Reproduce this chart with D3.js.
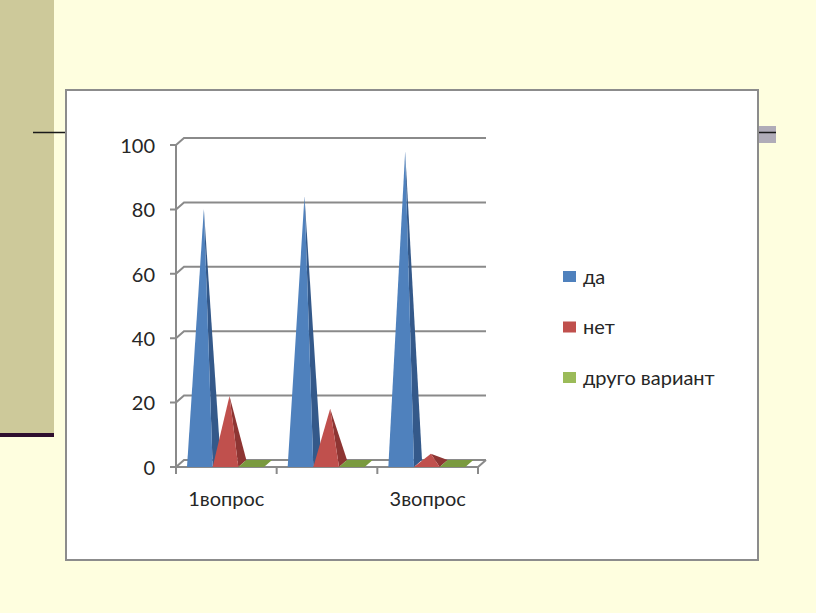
<!DOCTYPE html>
<html>
<head>
<meta charset="utf-8">
<script src="https://cdn.jsdelivr.net/npm/d3@7"></script>
<style>
  html, body { margin: 0; padding: 0; background: #FEFEDF; }
  svg { display: block; }
</style>
</head>
<body>
<svg id="chart" width="816" height="613"></svg>
<script>
const categories = ["1вопрос", "2вопрос", "3вопрос"];
const tickLabels = ["1вопрос", "", "3вопрос"];
const seriesNames = ["да", "нет", "друго вариант"];
const valuesDa = [79, 83, 97];
const valuesNet = [21, 17, 3];
const valuesDrugo = [0, 0, 0];
const yTicks = [0, 20, 40, 60, 80, 100];

const seriesValues = [valuesDa, valuesNet, valuesDrugo];
const colors = ["#4F81BD", "#C0504D", "#9BBB59"];
const darkColors = ["#34598A", "#8E3533", "#6E8A3A"];
const topColors = ["#4F81BD", "#C0504D", "#7A9A3F"];

const svg = d3.select("#chart");
const FONT = "Lato, 'Open Sans', sans-serif";

// slide background decorations
svg.append("rect").attr("x", 0).attr("y", 0).attr("width", 816).attr("height", 613).attr("fill", "#FEFEDF");
svg.append("rect").attr("x", 0).attr("y", 0).attr("width", 54).attr("height", 434).attr("fill", "#CDC99A");
svg.append("rect").attr("x", 0).attr("y", 433).attr("width", 54).attr("height", 4).attr("fill", "#2E0E2E");
svg.append("rect").attr("x", 758).attr("y", 126).attr("width", 18).attr("height", 17).attr("fill", "#B0ACB8");
svg.append("line").attr("x1", 33).attr("x2", 776).attr("y1", 132.5).attr("y2", 132.5)
  .attr("stroke", "#1a1a1a").attr("stroke-width", 1.5);

// chart box
svg.append("rect").attr("x", 66).attr("y", 90).attr("width", 692).attr("height", 470)
  .attr("fill", "#FFFFFF").attr("stroke", "#8C8C8C").attr("stroke-width", 2);

// scales
const x0 = 176, x1 = 478;
const dx = 8, dy = -7;
const x = d3.scaleBand().domain(categories).range([x0, x1]);
const xs = d3.scaleBand().domain(seriesNames).range([11, 88]);
const y = d3.scaleLinear().domain([0, 100]).range([467, 145]);

const grid = svg.append("g");
const gridColor = "#8A8A8A";

// back wall gridlines + side slants
yTicks.forEach(t => {
  grid.append("path")
    .attr("d", `M${x0 - 6},${y(t)} L${x0},${y(t)} L${x0 + dx},${y(t) + dy} L${x1 + dx},${y(t) + dy}`)
    .attr("fill", "none").attr("stroke", gridColor).attr("stroke-width", 2);
});
// floor
grid.append("path")
  .attr("d", `M${x0},${y(0)} L${x1},${y(0)} L${x1 + dx},${y(0) + dy}`)
  .attr("fill", "none").attr("stroke", gridColor).attr("stroke-width", 2);
// y axis vertical
grid.append("line").attr("x1", x0).attr("x2", x0).attr("y1", y(0)).attr("y2", y(100))
  .attr("stroke", gridColor).attr("stroke-width", 2);
// x ticks
const xTickPos = categories.map(c => x(c)).concat([x1]);
xTickPos.forEach(p => {
  grid.append("line").attr("x1", p).attr("x2", p).attr("y1", y(0)).attr("y2", y(0) + 7)
    .attr("stroke", gridColor).attr("stroke-width", 2);
});

// y labels via axis
const yAxis = d3.axisLeft(y).tickValues(yTicks).tickSize(0).tickPadding(0);
const ya = svg.append("g").attr("transform", `translate(${x0 - 21},0)`).call(yAxis);
ya.select(".domain").remove();
ya.selectAll("text").attr("font-family", FONT).attr("font-size", 20).attr("fill", "#262626").attr("dy", "0.36em");

// x labels
svg.append("g").selectAll("text").data(categories).join("text")
  .attr("x", d => x(d) + x.bandwidth() / 2)
  .attr("y", 506)
  .attr("text-anchor", "middle")
  .attr("font-family", FONT).attr("font-size", 20).attr("fill", "#262626")
  .text((d, i) => tickLabels[i]);

// pyramids
const marks = svg.append("g");
categories.forEach((c, ci) => {
  seriesNames.forEach((s, si) => {
    const v = seriesValues[si][ci];
    const left = x(c) + xs(s);
    const right = left + xs.bandwidth();
    const base = y(0);
    if (v <= 0) {
      marks.append("path")
        .attr("d", `M${left},${base} L${right},${base} L${right + dx},${base + dy} L${left + dx},${base + dy} Z`)
        .attr("fill", topColors[si]);
      return;
    }
    const ax = (left + right) / 2 + dx / 2;
    const ay = y(v) + dy / 2;
    // right face
    marks.append("path")
      .attr("d", `M${right},${base} L${right + dx},${base + dy} L${ax},${ay} Z`)
      .attr("fill", darkColors[si]);
    // front face
    marks.append("path")
      .attr("d", `M${left},${base} L${right},${base} L${ax},${ay} Z`)
      .attr("fill", colors[si]);
  });
});

// legend
const legend = svg.append("g");
seriesNames.forEach((s, i) => {
  const ly = 276.5 + i * 50.5;
  legend.append("rect").attr("x", 563).attr("y", ly - 5.5).attr("width", 13).attr("height", 11).attr("fill", colors[i]);
  legend.append("text").attr("x", 583).attr("y", ly).attr("dy", "0.36em")
    .attr("font-family", FONT).attr("font-size", 20).attr("fill", "#262626").text(s);
});
</script>
</body>
</html>
